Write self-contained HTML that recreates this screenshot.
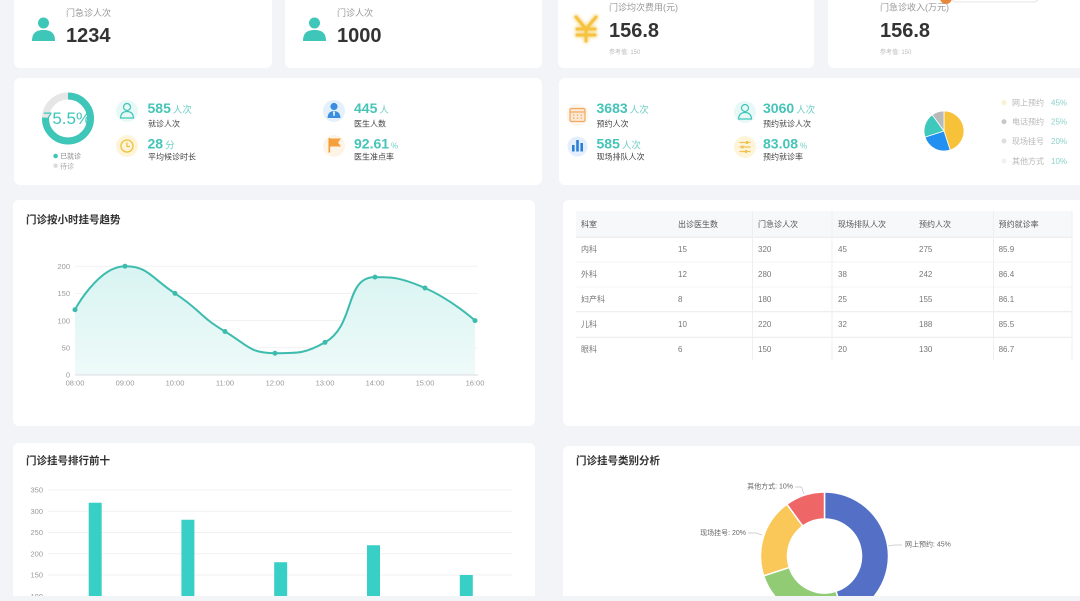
<!DOCTYPE html>
<html>
<head>
<meta charset="utf-8">
<style>
html,body{margin:0;padding:0;background:#f2f4f7;}
body{width:1080px;height:596px;overflow:hidden;}
svg text{font-family:"Liberation Sans","Noto Sans CJK SC",sans-serif;}
</style>
</head>
<body>
<svg width="1080" height="596" viewBox="0 0 1080 596" xmlns="http://www.w3.org/2000/svg">
<defs>
<linearGradient id="ag" x1="0" y1="0" x2="0" y2="1">
<stop offset="0" stop-color="#d8f4f2"/>
<stop offset="1" stop-color="#eefaf9"/>
</linearGradient>
<filter id="glow" x="-50%" y="-50%" width="200%" height="200%"><feGaussianBlur stdDeviation="1.5"/></filter>
</defs>
<rect x="0" y="0" width="1080" height="596" fill="#f2f4f7"/>

<!-- Top row cards -->
<rect x="14" y="-10" width="258" height="78" rx="6" fill="#fff"/>
<rect x="285" y="-10" width="257" height="78" rx="6" fill="#fff"/>
<rect x="558" y="-10" width="256" height="78" rx="6" fill="#fff"/>
<rect x="828" y="-10" width="262" height="78" rx="6" fill="#fff"/>

<!-- top-right artifact -->
<circle cx="946" cy="-2" r="6" fill="#e8873a"/>
<rect x="952" y="-20" width="86" height="22" rx="4" fill="#fff" stroke="#ddd" stroke-width="0.8"/>

<!-- card1 -->
<circle cx="43.5" cy="23" r="5.5" fill="#3ec6b8"/>
<path d="M32 41 C32 33 36 30 43.5 30 C51 30 55 33 55 41 Z" fill="#3ec6b8"/>
<text x="66" y="16" font-size="9" fill="#999">门急诊人次</text>
<text x="66" y="42.2" font-size="20" font-weight="bold" fill="#333">1234</text>
<!-- card2 -->
<circle cx="314.5" cy="23" r="5.5" fill="#3ec6b8"/>
<path d="M303 41 C303 33 307 30 314.5 30 C322 30 326 33 326 41 Z" fill="#3ec6b8"/>
<text x="337" y="16" font-size="9" fill="#999">门诊人次</text>
<text x="337" y="42.2" font-size="20" font-weight="bold" fill="#333">1000</text>
<!-- card3 -->
<g stroke="#f8d98a" stroke-width="5" fill="none" filter="url(#glow)" stroke-linecap="round">
<path d="M576 17 L586 29 L596 17 M586 29 L586 41 M577 29 L595 29 M577 35 L595 35"/>
</g>
<g stroke="#f5c340" stroke-width="3" fill="none" stroke-linecap="round">
<path d="M576 17 L586 29 L596 17 M586 29 L586 41 M577 29 L595 29 M577 35 L595 35"/>
</g>
<text x="609" y="10.7" font-size="9" fill="#999">门诊均次费用(元)</text>
<text x="609" y="37.2" font-size="20" font-weight="bold" fill="#333">156.8</text>
<text x="609" y="54" font-size="6" fill="#bbb">参考值: 150</text>
<!-- card4 -->
<text x="880" y="10.7" font-size="9" fill="#999">门急诊收入(万元)</text>
<text x="880" y="37.2" font-size="20" font-weight="bold" fill="#333">156.8</text>
<text x="880" y="54" font-size="6" fill="#bbb">参考值: 150</text>

<!-- Row 2 -->
<rect x="14" y="78" width="528" height="107" rx="6" fill="#fff"/>
<rect x="559" y="78" width="530" height="107" rx="6" fill="#fff"/>

<circle cx="68" cy="118.5" r="22.5" fill="none" stroke="#e6e6e6" stroke-width="7"/>
<circle cx="68" cy="118.5" r="22.5" fill="none" stroke="#3ec6b8" stroke-width="7" stroke-dasharray="106.7 200" transform="rotate(-90 68 118.5)"/>
<text x="67" y="124.2" font-size="17" fill="#3ec6b8" text-anchor="middle">75.5%</text>
<circle cx="55.6" cy="156" r="2.3" fill="#3ec6b8"/>
<text x="60" y="158.7" font-size="7" fill="#888">已就诊</text>
<circle cx="55.6" cy="165.7" r="2.3" fill="#ddd"/>
<text x="60" y="168.4" font-size="7" fill="#aaa">待诊</text>

<!-- item1 -->
<circle cx="127" cy="111" r="11" fill="#e8f8f6"/>
<circle cx="127" cy="107" r="3.5" fill="none" stroke="#3ec6b8" stroke-width="1.2"/>
<path d="M120.5 118 Q121 111.5 127 111.5 Q133 111.5 133.5 118 Z" fill="none" stroke="#3ec6b8" stroke-width="1.2"/>
<text x="147.5" y="113" font-size="14" font-weight="bold" fill="#45c4b8">585<tspan font-size="9.5" font-weight="normal" fill="#6fd0c6" dx="2">人次</tspan></text>
<text x="148" y="126.3" font-size="8" fill="#444">就诊人次</text>
<!-- item2 -->
<circle cx="127" cy="146" r="11" fill="#fdf4d9"/>
<circle cx="127" cy="146" r="6" fill="none" stroke="#f0bf3a" stroke-width="1.3"/>
<path d="M127 142.5 L127 146.5 L130 146.5" fill="none" stroke="#f0bf3a" stroke-width="1.2"/>
<text x="147.5" y="148.5" font-size="14" font-weight="bold" fill="#45c4b8">28<tspan font-size="9.5" font-weight="normal" fill="#6fd0c6" dx="2">分</tspan></text>
<text x="148" y="159.7" font-size="8" fill="#444">平均候诊时长</text>
<!-- item3 -->
<circle cx="334" cy="111" r="11" fill="#e4f0fc"/>
<circle cx="334" cy="106.5" r="3.6" fill="#3b8de0"/>
<path d="M327.5 118 Q328 111 334 111 Q340 111 340.5 118 Z" fill="#3b8de0"/>
<path d="M333 111.5 L335 111.5 L334.5 116 L333.5 116 Z" fill="#fff"/>
<text x="354" y="113" font-size="14" font-weight="bold" fill="#45c4b8">445<tspan font-size="9.5" font-weight="normal" fill="#6fd0c6" dx="2">人</tspan></text>
<text x="354" y="126.3" font-size="8" fill="#444">医生人数</text>
<!-- item4 -->
<circle cx="334" cy="146" r="11" fill="#fdf3e6"/>
<rect x="328.5" y="138" width="1.6" height="14.5" fill="#f29b35"/>
<path d="M330 138.5 L341 138.5 L338 142.5 L341 146.5 L330 146.5 Z" fill="#f5a03c"/>
<text x="354" y="148.5" font-size="14" font-weight="bold" fill="#45c4b8">92.61<tspan font-size="8" font-weight="normal" fill="#6fd0c6" dx="2">%</tspan></text>
<text x="354" y="159.7" font-size="8" fill="#444">医生准点率</text>

<!-- right card items -->
<circle cx="577.5" cy="115" r="11" fill="#fef5ec"/>
<rect x="570" y="108.5" width="15" height="13" rx="1.5" fill="#fde9d3" stroke="#f0a860" stroke-width="1.2"/>
<line x1="570" y1="112" x2="585" y2="112" stroke="#f0a860" stroke-width="1.2"/>
<g fill="#f0a860"><rect x="573" y="114.5" width="1.5" height="1.2"/><rect x="576.8" y="114.5" width="1.5" height="1.2"/><rect x="580.5" y="114.5" width="1.5" height="1.2"/><rect x="573" y="117.5" width="1.5" height="1.2"/><rect x="576.8" y="117.5" width="1.5" height="1.2"/><rect x="580.5" y="117.5" width="1.5" height="1.2"/></g>
<text x="596.5" y="113" font-size="14" font-weight="bold" fill="#45c4b8">3683<tspan font-size="9.5" font-weight="normal" fill="#6fd0c6" dx="2">人次</tspan></text>
<text x="596.5" y="126.3" font-size="8" fill="#444">预约人次</text>

<circle cx="577.5" cy="146.5" r="10" fill="#e3effc"/>
<rect x="572" y="145" width="2.6" height="6.5" fill="#2c7fd6"/>
<rect x="576.2" y="140" width="2.6" height="11.5" fill="#2c7fd6"/>
<rect x="580.4" y="143" width="2.6" height="8.5" fill="#2c7fd6"/>
<text x="596.5" y="148.5" font-size="14" font-weight="bold" fill="#45c4b8">585<tspan font-size="9.5" font-weight="normal" fill="#6fd0c6" dx="2">人次</tspan></text>
<text x="596.5" y="159.7" font-size="8" fill="#444">现场排队人次</text>

<circle cx="745" cy="112" r="11" fill="#e8f8f6"/>
<circle cx="745" cy="108" r="3.5" fill="none" stroke="#3ec6b8" stroke-width="1.2"/>
<path d="M738.5 119 Q739 112.5 745 112.5 Q751 112.5 751.5 119 Z" fill="none" stroke="#3ec6b8" stroke-width="1.2"/>
<text x="763" y="113" font-size="14" font-weight="bold" fill="#45c4b8">3060<tspan font-size="9.5" font-weight="normal" fill="#6fd0c6" dx="2">人次</tspan></text>
<text x="763" y="126.3" font-size="8" fill="#444">预约就诊人次</text>

<circle cx="745" cy="147" r="11" fill="#fdf4d9"/>
<g stroke="#f0c050" stroke-width="1.2"><line x1="739.5" y1="142.5" x2="750.5" y2="142.5"/><line x1="739.5" y1="147" x2="750.5" y2="147"/><line x1="739.5" y1="151.5" x2="750.5" y2="151.5"/></g>
<g fill="#f0c050"><rect x="746" y="141" width="2" height="3"/><rect x="741.5" y="145.5" width="2" height="3"/><rect x="745" y="150" width="2" height="3"/></g>
<text x="763" y="148.5" font-size="14" font-weight="bold" fill="#45c4b8">83.08<tspan font-size="8" font-weight="normal" fill="#6fd0c6" dx="2">%</tspan></text>
<text x="763" y="159.7" font-size="8" fill="#444">预约就诊率</text>

<!-- small pie -->
<g stroke="#fff" stroke-width="0.8">
<path d="M944 131 L944 111 A20 20 0 0 1 950.18 150.02 Z" fill="#f8c13a"/>
<path d="M944 131 L950.18 150.02 A20 20 0 0 1 924.98 137.18 Z" fill="#2290f0"/>
<path d="M944 131 L924.98 137.18 A20 20 0 0 1 932.24 114.82 Z" fill="#3ec9bc"/>
<path d="M944 131 L932.24 114.82 A20 20 0 0 1 944 111 Z" fill="#b9b9b9"/>
</g>
<circle cx="1004" cy="102.7" r="2.5" fill="#fbf0d2"/>
<text x="1012" y="105.5" font-size="8" fill="#b8b8b8">网上预约</text><text x="1051" y="105.5" font-size="8" fill="#8ad3cb">45%</text>
<circle cx="1004" cy="121.7" r="2.5" fill="#c8c8c8"/>
<text x="1012" y="124.5" font-size="8" fill="#b8b8b8">电话预约</text><text x="1051" y="124.5" font-size="8" fill="#8ad3cb">25%</text>
<circle cx="1004" cy="141" r="2.5" fill="#dedede"/>
<text x="1012" y="143.8" font-size="8" fill="#b8b8b8">现场挂号</text><text x="1051" y="143.8" font-size="8" fill="#8ad3cb">20%</text>
<circle cx="1004" cy="161" r="2.5" fill="#f0f0f0"/>
<text x="1012" y="163.8" font-size="8" fill="#b8b8b8">其他方式</text><text x="1051" y="163.8" font-size="8" fill="#8ad3cb">10%</text>

<!-- Row 3 left: line chart -->
<rect x="13" y="200" width="522" height="226" rx="6" fill="#fff"/>
<text x="26" y="223" font-size="10.5" font-weight="bold" fill="#333">门诊按小时挂号趋势</text>
<g stroke="#f1f1f1" stroke-width="1">
<line x1="75" y1="266.2" x2="478" y2="266.2"/>
<line x1="75" y1="293.4" x2="478" y2="293.4"/>
<line x1="75" y1="320.6" x2="478" y2="320.6"/>
<line x1="75" y1="347.8" x2="478" y2="347.8"/>
</g>
<g font-size="7.5" fill="#999" text-anchor="end">
<text x="70" y="268.9">200</text>
<text x="70" y="296.1">150</text>
<text x="70" y="323.3">100</text>
<text x="70" y="350.5">50</text>
<text x="70" y="377.7">0</text>
</g>
<path d="M75,309.7 C75,309.7 98.1,266.2 125,266.2 C148.1,266.2 151.25,277.9 175,293.4 C201.25,310.5 198.2,315.5 225,331.5 C248.2,345.4 249.2,353.2 275,353.2 C299.2,353.2 305.8,353.2 325,342.4 C355.8,325.1 344.2,277.1 375,277.1 C394.2,277.1 401.9,278.0 425,288.0 C451.9,299.7 475,320.6 475,320.6 L475,375 L75,375 Z" fill="url(#ag)"/>
<line x1="75" y1="375" x2="478" y2="375" stroke="#dcdcdc" stroke-width="1"/>
<path d="M75,309.7 C75,309.7 98.1,266.2 125,266.2 C148.1,266.2 151.25,277.9 175,293.4 C201.25,310.5 198.2,315.5 225,331.5 C248.2,345.4 249.2,353.2 275,353.2 C299.2,353.2 305.8,353.2 325,342.4 C355.8,325.1 344.2,277.1 375,277.1 C394.2,277.1 401.9,278.0 425,288.0 C451.9,299.7 475,320.6 475,320.6" fill="none" stroke="#3dbcae" stroke-width="2"/>
<g fill="#3dbcae">
<circle cx="75" cy="309.7" r="2.5"/><circle cx="125" cy="266.2" r="2.5"/><circle cx="175" cy="293.4" r="2.5"/><circle cx="225" cy="331.5" r="2.5"/><circle cx="275" cy="353.2" r="2.5"/><circle cx="325" cy="342.4" r="2.5"/><circle cx="375" cy="277.1" r="2.5"/><circle cx="425" cy="288" r="2.5"/><circle cx="475" cy="320.6" r="2.5"/>
</g>
<g font-size="7.5" fill="#999" text-anchor="middle">
<text x="75" y="385.4">08:00</text><text x="125" y="385.4">09:00</text><text x="175" y="385.4">10:00</text><text x="225" y="385.4">11:00</text><text x="275" y="385.4">12:00</text><text x="325" y="385.4">13:00</text><text x="375" y="385.4">14:00</text><text x="425" y="385.4">15:00</text><text x="475" y="385.4">16:00</text>
</g>

<!-- Row 3 right: table -->
<rect x="563" y="200" width="525" height="226" rx="6" fill="#fff"/>
<rect x="576" y="211" width="496" height="26" fill="#f7f8fa"/>
<g stroke="#f4f4f4"><line x1="576" y1="262" x2="1072" y2="262"/><line x1="576" y1="287" x2="1072" y2="287"/></g>
<g stroke="#e9e9e9"><line x1="576" y1="237.3" x2="1072" y2="237.3"/><line x1="576" y1="311.7" x2="1072" y2="311.7"/><line x1="576" y1="337.3" x2="1072" y2="337.3"/></g>
<g stroke="#efefef"><line x1="752.5" y1="211" x2="752.5" y2="360"/><line x1="832" y1="211" x2="832" y2="360"/><line x1="993.5" y1="211" x2="993.5" y2="360"/><line x1="1072" y1="211" x2="1072" y2="360"/></g>
<g font-size="8" fill="#555">
<text x="581" y="227.2">科室</text><text x="678" y="227.2">出诊医生数</text><text x="758" y="227.2">门急诊人次</text><text x="838" y="227.2">现场排队人次</text><text x="919" y="227.2">预约人次</text><text x="998.6" y="227.2">预约就诊率</text>
</g>
<g font-size="8" fill="#777">
<text x="581" y="252.2">内科</text><text x="678" y="252.2">15</text><text x="758" y="252.2">320</text><text x="838" y="252.2">45</text><text x="919" y="252.2">275</text><text x="998.6" y="252.2">85.9</text>
<text x="581" y="277.2">外科</text><text x="678" y="277.2">12</text><text x="758" y="277.2">280</text><text x="838" y="277.2">38</text><text x="919" y="277.2">242</text><text x="998.6" y="277.2">86.4</text>
<text x="581" y="302.2">妇产科</text><text x="678" y="302.2">8</text><text x="758" y="302.2">180</text><text x="838" y="302.2">25</text><text x="919" y="302.2">155</text><text x="998.6" y="302.2">86.1</text>
<text x="581" y="327.2">儿科</text><text x="678" y="327.2">10</text><text x="758" y="327.2">220</text><text x="838" y="327.2">32</text><text x="919" y="327.2">188</text><text x="998.6" y="327.2">85.5</text>
<text x="581" y="352.2">眼科</text><text x="678" y="352.2">6</text><text x="758" y="352.2">150</text><text x="838" y="352.2">20</text><text x="919" y="352.2">130</text><text x="998.6" y="352.2">86.7</text>
</g>

<!-- Row 4 left: bar chart -->
<rect x="13" y="443" width="522" height="170" rx="6" fill="#fff"/>
<text x="26" y="464" font-size="10.5" font-weight="bold" fill="#333">门诊挂号排行前十</text>
<g stroke="#f1f1f1">
<line x1="48" y1="490" x2="512" y2="490"/><line x1="48" y1="511.25" x2="512" y2="511.25"/><line x1="48" y1="532.5" x2="512" y2="532.5"/><line x1="48" y1="553.75" x2="512" y2="553.75"/><line x1="48" y1="575" x2="512" y2="575"/>
</g>
<g font-size="7.5" fill="#999" text-anchor="end">
<text x="43" y="492.7">350</text><text x="43" y="513.9">300</text><text x="43" y="535.2">250</text><text x="43" y="556.4">200</text><text x="43" y="577.7">150</text><text x="43" y="598.9">100</text>
</g>
<g fill="#38cfc6">
<rect x="88.7" y="502.75" width="13" height="100"/>
<rect x="181.4" y="519.75" width="13" height="90"/>
<rect x="274.2" y="562.25" width="13" height="40"/>
<rect x="367" y="545.25" width="13" height="60"/>
<rect x="459.8" y="575" width="13" height="30"/>
</g>

<!-- Row 4 right: donut -->
<rect x="563" y="446" width="525" height="170" rx="6" fill="#fff"/>
<text x="576" y="464" font-size="10.5" font-weight="bold" fill="#333">门诊挂号类别分析</text>
<g stroke="#fff" stroke-width="1.5">
<path d="M824.5,492 A64,64 0 0 1 844.28,616.87 L835.93,591.19 A37,37 0 0 0 824.5,519 Z" fill="#5470c6"/>
<path d="M844.28,616.87 A64,64 0 0 1 763.63,575.78 L789.31,567.43 A37,37 0 0 0 835.93,591.19 Z" fill="#91cc75"/>
<path d="M763.63,575.78 A64,64 0 0 1 786.88,504.22 L802.75,526.07 A37,37 0 0 0 789.31,567.43 Z" fill="#fac858"/>
<path d="M786.88,504.22 A64,64 0 0 1 824.5,492 L824.5,519 A37,37 0 0 0 802.75,526.07 Z" fill="#ee6666"/>
</g>
<g fill="none" stroke="#c4c4c4" stroke-width="0.7">
<polyline points="888,546 894,545 902,545"/>
<polyline points="762,535 756,533 748,533"/>
<polyline points="804,494 801.5,487 795,487"/>
</g>
<g font-size="7" fill="#666">
<text x="905" y="546.5">网上预约: 45%</text>
<text x="746" y="535" text-anchor="end">现场挂号: 20%</text>
<text x="793" y="488.5" text-anchor="end">其他方式: 10%</text>
</g>
</svg>
</body>
</html>
